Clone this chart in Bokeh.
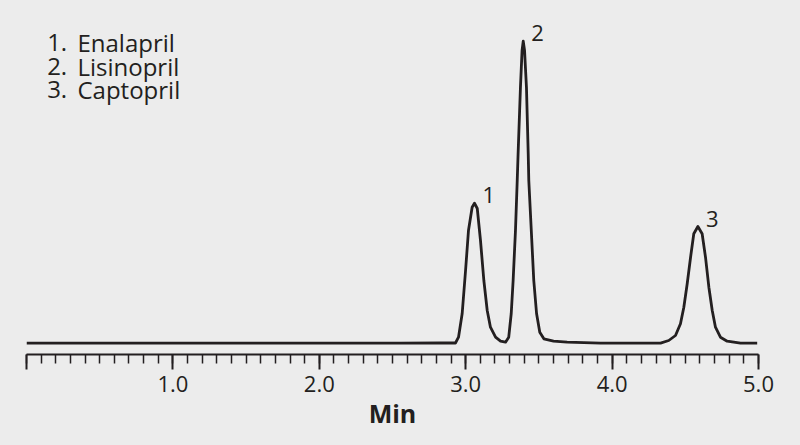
from bokeh.plotting import figure
from bokeh.models import Range1d, FixedTicker
from bokeh.embed import file_html
from bokeh.resources import INLINE
from bokeh.core.properties import value

# ---- data ----
time_min = [0.000, 0.505, 1.190, 1.870, 2.555, 2.830, 2.930, 2.951, 2.976, 2.999,
            3.019, 3.044, 3.060, 3.079, 3.101, 3.124, 3.147, 3.169, 3.204, 3.238,
            3.272, 3.294, 3.311, 3.324, 3.340, 3.352, 3.358, 3.374, 3.385, 3.393,
            3.402, 3.415, 3.427, 3.431, 3.448, 3.465, 3.484, 3.506, 3.534, 3.600,
            3.693, 3.921, 4.331, 4.387, 4.433, 4.467, 4.490, 4.513, 4.536, 4.558,
            4.586, 4.615, 4.638, 4.661, 4.684, 4.706, 4.740, 4.786, 4.877, 4.991]
signal = [0.3, 0.3, 0.3, 0.3, 0.3, 0.5, 0.5, 6.3, 30.0, 73.0,
          113.0, 136.3, 140.3, 135.0, 103.0, 63.0, 33.0, 16.3, 6.3, 2.3,
          1.3, 6.3, 30.0, 63.0, 113.0, 163.0, 190.0, 256.3, 293.0, 302.3,
          293.0, 256.3, 190.0, 163.0, 113.0, 63.0, 30.0, 11.3, 4.7, 2.3,
          1.3, 0.3, 0.3, 3.0, 8.0, 19.7, 36.3, 59.7, 86.3, 109.7,
          117.0, 109.7, 86.3, 56.3, 33.0, 16.3, 6.3, 2.3, 0.3, 0.3]

peak_ids = ["1", "2", "3"]
peak_rt = [3.060, 3.393, 4.586]
peak_height = [140.3, 302.3, 117.0]

legend_numbers = ["1.", "2.", "3."]
compounds = ["Enalapril", "Lisinopril", "Captopril"]

tick_values = [0, 1, 2, 3, 4, 5]
tick_labels = ["", "1.0", "2.0", "3.0", "4.0", "5.0"]

# ---- style ----
BG = "#ececec"
INK = "#231f20"
FONT = "Open Sans"
TEXT_SHIFT = -8  # screen px

p = figure(width=792, height=440,
           x_range=Range1d(0, 5), y_range=Range1d(-11, 335),
           output_backend="svg", toolbar_location=None,
           min_border_left=26, min_border_right=34,
           min_border_top=8, min_border_bottom=86,
           background_fill_color=BG, border_fill_color=BG,
           outline_line_color=None, y_axis_location=None)
p.grid.visible = False

p.line(time_min, signal, line_color=INK, line_width=2.8, line_join="round")

# peak labels
p.text(x=peak_rt, y=peak_height, text=peak_ids, x_offset=8, y_offset=TEXT_SHIFT,
       text_font=value(FONT), text_font_size="22px", text_color=INK,
       text_baseline="alphabetic", text_align="left")

# compound list (top-left)
legend_y0 = 293.0
legend_step = 23.5
ys = [legend_y0 - i * legend_step for i in range(len(compounds))]
p.text(x=[0.141] * len(compounds), y=ys, text=legend_numbers, y_offset=TEXT_SHIFT,
       text_font=value(FONT), text_font_size="24px", text_color=INK,
       text_baseline="alphabetic", text_align="left")
p.text(x=[0.348] * len(compounds), y=ys, text=compounds, y_offset=TEXT_SHIFT,
       text_font=value(FONT), text_font_size="24px", text_color=INK,
       text_baseline="alphabetic", text_align="left")

# x axis
ax = p.xaxis[0]
ax.ticker = FixedTicker(ticks=tick_values, minor_ticks=[i / 10 for i in range(51)])
ax.major_label_overrides = {v: l for v, l in zip(tick_values, tick_labels)}
ax.axis_line_color = INK
ax.axis_line_width = 2
ax.major_tick_line_color = INK
ax.major_tick_line_width = 2
ax.minor_tick_line_color = INK
ax.minor_tick_line_width = 1.5
ax.major_tick_in = 0
ax.major_tick_out = 15
ax.minor_tick_in = 0
ax.minor_tick_out = 9
ax.major_label_text_font = FONT
ax.major_label_text_font_size = "22px"
ax.major_label_text_color = INK
ax.major_label_standoff = 6
ax.axis_label = "Min"
ax.axis_label_text_font = FONT
ax.axis_label_text_font_size = "25px"
ax.axis_label_text_font_style = "bold"
ax.axis_label_text_color = INK
ax.axis_label_standoff = 1

html = file_html(p, INLINE)
html = html.replace("</head>", "<style>html,body{background:%s;}</style></head>" % BG, 1)
open("out.html", "w").write(html)
